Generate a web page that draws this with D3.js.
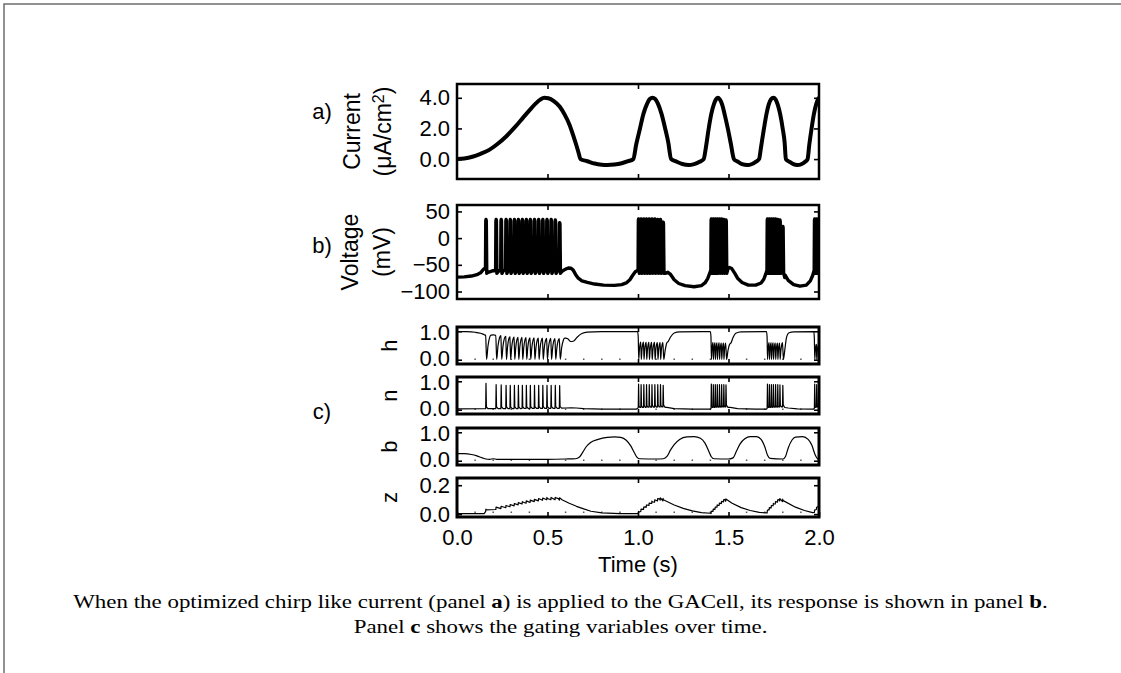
<!DOCTYPE html>
<html>
<head>
<meta charset="utf-8">
<title>GACell response to a chirp-like current</title>
<script src="https://cdn.jsdelivr.net/npm/d3@7"></script>
<style>
  html, body { margin: 0; padding: 0; background: #fff; }
  svg { display: block; }
</style>
</head>
<body>
<svg id="figure" width="1121" height="673"></svg>
<script>
// ---------- data ----------
const timeTicks = [0, 0.5, 1.0, 1.5, 2.0];
const innerTimeTicks = [0.5, 1.0, 1.5];
const minorTimeTicks = [0.1, 0.2, 0.3, 0.4, 0.6, 0.7, 0.8, 0.9, 1.1, 1.2, 1.3, 1.4, 1.6, 1.7, 1.8, 1.9];
const currentTicks = [0, 2, 4];
const voltageTicks = [50, 0, -50, -100];
const gateTicks = [0, 1];
const zTicks = [0, 0.2];

// injected current, µA/cm² : [time s, value]
const currentTrace = [
  [0, 0], [0.04, 0.04], [0.085, 0.15], [0.13, 0.34], [0.178, 0.6], [0.22, 0.95], [0.27, 1.46],
  [0.32, 2.08], [0.363, 2.67], [0.4, 3.18], [0.437, 3.65], [0.46, 3.88], [0.483, 4.0], [0.505, 3.97],
  [0.535, 3.78], [0.567, 3.43], [0.595, 2.9], [0.622, 2.23], [0.642, 1.55], [0.659, 0.92], [0.672, 0.4], [0.682, 0],
  [0.72, -0.14], [0.76, -0.29], [0.8, -0.37], [0.83, -0.39], [0.87, -0.36], [0.91, -0.27], [0.945, -0.14], [0.974, 0],
  [0.99, 0.95], [1.011, 2.0], [1.03, 2.95], [1.05, 3.6], [1.065, 3.92], [1.08, 4.0], [1.095, 3.92], [1.11, 3.62],
  [1.13, 2.95], [1.15, 2.0], [1.167, 1.1], [1.183, 0],
  [1.21, -0.15], [1.245, -0.32], [1.28, -0.39], [1.31, -0.33], [1.34, -0.18], [1.363, 0],
  [1.375, 0.75], [1.39, 1.95], [1.405, 2.95], [1.42, 3.6], [1.43, 3.88], [1.44, 4.0], [1.452, 3.9], [1.465, 3.55],
  [1.48, 2.85], [1.497, 1.95], [1.513, 1.0], [1.53, 0],
  [1.55, -0.16], [1.575, -0.33], [1.604, -0.39], [1.63, -0.32], [1.652, -0.17], [1.669, 0],
  [1.68, 0.8], [1.696, 2.0], [1.71, 2.95], [1.722, 3.55], [1.735, 3.9], [1.748, 4.0], [1.76, 3.9], [1.772, 3.55],
  [1.786, 2.9], [1.8, 1.95], [1.81, 1.1], [1.817, 0],
  [1.835, -0.16], [1.858, -0.33], [1.88, -0.39], [1.905, -0.32], [1.925, -0.16], [1.937, 0],
  [1.946, 0.9], [1.959, 2.0], [1.972, 2.95], [1.985, 3.6], [1.994, 3.9], [2.0, 4.0]
];

// membrane voltage between spikes, mV : [time s, value]
const voltageRest = [
  [0, -73], [0.04, -72.5], [0.08, -71], [0.11, -68.5], [0.13, -65], [0.145, -59], [0.158, -55],
  [0.18, -63], [0.2, -61], [0.23, -61], [0.26, -60], [0.3, -60], [0.4, -60], [0.5, -60], [0.566, -60],
  [0.585, -61], [0.6, -58], [0.615, -56], [0.63, -56.5], [0.642, -60], [0.655, -68], [0.67, -75], [0.69, -80],
  [0.72, -83], [0.76, -86], [0.81, -88], [0.87, -88.5], [0.91, -87], [0.935, -84], [0.955, -78], [0.97, -70],
  [0.985, -63], [1.0, -60],
  [1.05, -60], [1.138, -61], [1.15, -64], [1.165, -64], [1.18, -68], [1.2, -78], [1.225, -85], [1.26, -89],
  [1.31, -91], [1.35, -89], [1.37, -84], [1.385, -76], [1.396, -66], [1.404, -60],
  [1.485, -60], [1.495, -58], [1.505, -55], [1.518, -57], [1.535, -66], [1.55, -75], [1.575, -83], [1.61, -88],
  [1.65, -88], [1.68, -84], [1.695, -77], [1.706, -67], [1.714, -60],
  [1.783, -61], [1.799, -62], [1.812, -69], [1.83, -79], [1.86, -87], [1.895, -90], [1.93, -88], [1.952, -80],
  [1.965, -70], [1.975, -60], [2.0, -60]
];
const spikeTrough = -66;

// action potentials : [time s, peak voltage mV, peak n]
const spikes = [
  [0.159, 35, 0.93], [0.215, 35, 0.88], [0.243, 35, 0.87], [0.270, 35, 0.86], [0.293, 35, 0.86],
  [0.316, 35, 0.86], [0.338, 35, 0.86], [0.360, 35, 0.86], [0.382, 35, 0.86], [0.404, 35, 0.86],
  [0.427, 35, 0.86], [0.450, 35, 0.86], [0.473, 35, 0.86], [0.496, 35, 0.86], [0.519, 35, 0.86],
  [0.542, 34, 0.86], [0.566, 29, 0.85],
  [1.002, 36, 0.9], [1.016, 36, 0.88], [1.031, 36, 0.88], [1.046, 36, 0.88], [1.061, 36, 0.88],
  [1.076, 36, 0.88], [1.092, 36, 0.88], [1.108, 35, 0.88], [1.123, 35, 0.88], [1.138, 30, 0.86],
  [1.404, 36, 0.9], [1.415, 36, 0.88], [1.426, 36, 0.88], [1.437, 36, 0.88], [1.449, 36, 0.88],
  [1.461, 36, 0.88], [1.473, 35, 0.88], [1.485, 34, 0.87],
  [1.714, 36, 0.9], [1.725, 36, 0.88], [1.736, 36, 0.88], [1.747, 36, 0.88], [1.759, 36, 0.88],
  [1.771, 35, 0.88], [1.783, 34, 0.87], [1.799, 22, 0.86],
  [1.975, 36, 0.9], [1.986, 36, 0.88], [1.997, 36, 0.88]
];

// h gating: level reached between spikes, and depth of each spike's dip
const hLevel = [
  [0, 0.99], [0.05, 0.985], [0.1, 0.965], [0.13, 0.93], [0.15, 0.88], [0.159, 0.86],
  [0.17, 0.86], [0.2, 0.87], [0.25, 0.84], [0.3, 0.8], [0.4, 0.77], [0.5, 0.75], [0.566, 0.74],
  [0.6, 0.76], [0.612, 0.74], [0.628, 0.64], [0.645, 0.66], [0.665, 0.8], [0.69, 0.92], [0.72, 0.97],
  [0.8, 0.985], [0.998, 0.99],
  [1.006, 0.62], [1.138, 0.6], [1.15, 0.6], [1.158, 0.66], [1.166, 0.63], [1.18, 0.8], [1.2, 0.94],
  [1.23, 0.98], [1.4, 0.99],
  [1.408, 0.6], [1.485, 0.58], [1.495, 0.57], [1.503, 0.62], [1.512, 0.56], [1.525, 0.78], [1.54, 0.93],
  [1.57, 0.98], [1.71, 0.99],
  [1.718, 0.6], [1.783, 0.58], [1.799, 0.6], [1.81, 0.6], [1.82, 0.85], [1.835, 0.95], [1.86, 0.98],
  [1.971, 0.99], [1.979, 0.55], [2.0, 0.5]
];
const hDip = 0.01;

// n gating between spikes
const nRest = [
  [0, 0.03], [0.15, 0.035], [0.57, 0.05], [0.6, 0.06], [0.63, 0.07], [0.66, 0.06], [0.7, 0.04], [0.8, 0.02],
  [0.99, 0.02], [1.004, 0.08], [1.14, 0.1], [1.16, 0.08], [1.2, 0.04], [1.3, 0.02], [1.4, 0.02],
  [1.408, 0.08], [1.485, 0.1], [1.51, 0.08], [1.55, 0.04], [1.65, 0.02], [1.71, 0.02], [1.718, 0.08],
  [1.8, 0.1], [1.83, 0.06], [1.88, 0.03], [1.97, 0.02], [1.979, 0.08], [2.0, 0.1]
];

// b gating
const bTrace = [
  [0, 0.25], [0.04, 0.25], [0.08, 0.22], [0.11, 0.17], [0.14, 0.1], [0.16, 0.06], [0.18, 0.05], [0.2, 0.07],
  [0.22, 0.05], [0.26, 0.05], [0.35, 0.05], [0.5, 0.05], [0.6, 0.06], [0.655, 0.07], [0.675, 0.12],
  [0.695, 0.3], [0.715, 0.5], [0.74, 0.65], [0.78, 0.75], [0.83, 0.82], [0.87, 0.84], [0.905, 0.82],
  [0.935, 0.72], [0.96, 0.52], [0.98, 0.28], [0.995, 0.12], [1.01, 0.07], [1.1, 0.06], [1.14, 0.07],
  [1.16, 0.15], [1.18, 0.38], [1.2, 0.57], [1.23, 0.75], [1.27, 0.84], [1.31, 0.85], [1.345, 0.79],
  [1.37, 0.62], [1.39, 0.35], [1.405, 0.14], [1.42, 0.07], [1.5, 0.06], [1.525, 0.1], [1.545, 0.35],
  [1.565, 0.6], [1.59, 0.77], [1.62, 0.85], [1.655, 0.85], [1.68, 0.75], [1.7, 0.5], [1.715, 0.2],
  [1.73, 0.08], [1.8, 0.06], [1.815, 0.15], [1.83, 0.45], [1.85, 0.72], [1.87, 0.83], [1.91, 0.85],
  [1.94, 0.75], [1.96, 0.55], [1.978, 0.22], [1.99, 0.08], [2.0, 0.03]
];

// z gating trend, with a small step at every spike
const zTrend = [
  [0, 0.003], [0.15, 0.004], [0.16, 0.03], [0.215, 0.04], [0.27, 0.052], [0.36, 0.078], [0.45, 0.1],
  [0.5, 0.108], [0.56, 0.107], [0.58, 0.1], [0.62, 0.075], [0.66, 0.054], [0.7, 0.036], [0.74, 0.02],
  [0.8, 0.009], [0.9, 0.004], [0.995, 0.003], [1.004, 0.014], [1.04, 0.05], [1.08, 0.085], [1.12, 0.105],
  [1.14, 0.1], [1.2, 0.063], [1.25, 0.04], [1.3, 0.022], [1.35, 0.01], [1.4, 0.006], [1.41, 0.02],
  [1.44, 0.06], [1.48, 0.1], [1.52, 0.075], [1.57, 0.045], [1.62, 0.025], [1.67, 0.012], [1.71, 0.008],
  [1.72, 0.03], [1.75, 0.07], [1.78, 0.1], [1.8, 0.095], [1.87, 0.048], [1.92, 0.025], [1.965, 0.01],
  [1.975, 0.02], [2.0, 0.065]
];
const zStep = 0.016;

const captionLines = [
  [["When the optimized chirp like current (panel ", false], ["a", true],
   [") is applied to the GACell, its response is shown in panel ", false], ["b", true], [".", false]],
  [["Panel ", false], ["c", true], [" shows the gating variables over time.", false]]
];

// ---------- helpers ----------
const SANS = '"Liberation Sans", Arial, Helvetica, sans-serif';
const SERIF = '"Liberation Serif", "Times New Roman", serif';
const svg = d3.select("#figure");
const x = d3.scaleLinear().domain([0, 2]).range([457, 819]);
const byTime = d3.bisector(d => d[0]).left;

function valueAt(series, t) {
  const i = byTime(series, t);
  if (i <= 0) return series[0][1];
  if (i >= series.length) return series[series.length - 1][1];
  const [t0, v0] = series[i - 1], [t1, v1] = series[i];
  return v0 + (v1 - v0) * (t - t0) / (t1 - t0);
}

// Merge a slow trace with a short excursion placed at every spike time.
function withSpikes(rest, excursion) {
  const pts = [], windows = [];
  spikes.forEach((s, i) => {
    const next = i < spikes.length - 1 ? spikes[i + 1][0] : Infinity;
    const gap = Math.min(next - s[0], 0.03);
    const seg = excursion(s, gap);
    windows.push([seg[0][0], seg[seg.length - 1][0]]);
    pts.push(...seg);
  });
  rest.forEach(p => {
    if (!windows.some(w => p[0] >= w[0] && p[0] <= w[1])) pts.push(p);
  });
  return pts.filter(p => p[0] >= 0 && p[0] <= 2).sort((a, b) => a[0] - b[0]);
}

// each action potential: upstroke, short rounded top, fall to the after-hyperpolarisation
const voltagePath = withSpikes(voltageRest, ([t, peak], gap) => [
  [t - 0.0016, valueAt(voltageRest, t)],
  [t, peak - 3],
  [t + 0.0014, peak],
  [t + 0.0028, peak - 3],
  [t + 0.0055, spikeTrough],
  [t + Math.min(0.6 * gap, 0.012), valueAt(voltageRest, t + 0.6 * gap) - 2]
]);

const hPath = withSpikes(hLevel, ([t], gap) => [
  [t - 0.0008, valueAt(hLevel, t)],
  [t + 0.15 * gap, hDip],
  [t + 0.4 * gap, 0.55 * valueAt(hLevel, t + 0.4 * gap)],
  [t + 0.7 * gap, 0.9 * valueAt(hLevel, t + 0.7 * gap)],
  [t + gap - 0.0012, valueAt(hLevel, t + gap - 0.0012)]
]);

const nPath = withSpikes(nRest, ([t, , peak], gap) => [
  [t - 0.0006, valueAt(nRest, t)],
  [t + 0.0012, peak],
  [t + 0.0035, valueAt(nRest, t) + 0.06],
  [t + Math.min(0.6 * gap, 0.012), valueAt(nRest, t + 0.6 * gap)]
]);

const zPath = withSpikes(zTrend, ([t]) => [
  [t - 0.0004, valueAt(zTrend, t) - zStep / 2],
  [t + 0.0006, valueAt(zTrend, t) + zStep / 2]
]);

// ---------- page frame ----------
svg.append("path")
  .attr("d", "M4,673V4H1121")
  .attr("fill", "none").attr("stroke", "#6e6e6e").attr("stroke-width", 1.5);

// ---------- panels ----------
function styleAxis(sel) {
  sel.select(".domain").remove();
  sel.selectAll(".tick line").attr("stroke", "#000").attr("stroke-width", 1.6);
  sel.selectAll(".tick text")
    .attr("fill", "#000")
    .style("font-family", SANS).style("font-size", "22px");
}

function panel(cfg) {
  const y = d3.scaleLinear().domain(cfg.domain).range([cfg.bottom, cfg.top]);
  const g = svg.append("g").attr("class", "panel-" + cfg.name);
  const [x0, x1] = x.range();
  const clipId = "clip-" + cfg.name;
  svg.append("clipPath").attr("id", clipId)
    .append("rect").attr("x", x0).attr("y", cfg.top).attr("width", x1 - x0).attr("height", cfg.bottom - cfg.top);

  if (cfg.minor) {
    g.append("g").selectAll("rect").data(minorTimeTicks).join("rect")
      .attr("x", d => x(d) - 0.75).attr("y", cfg.bottom - 5.5)
      .attr("width", 1.5).attr("height", 1.5).attr("fill", "#555");
  }

  g.append("path")
    .datum(cfg.data)
    .attr("clip-path", `url(#${clipId})`)
    .attr("fill", "none").attr("stroke", "#000")
    .attr("stroke-width", cfg.lineWidth)
    .attr("stroke-linejoin", "round").attr("stroke-linecap", "round")
    .attr("d", d3.line().x(d => x(d[0])).y(d => y(d[1])).curve(cfg.curve || d3.curveLinear));

  const left = g.append("g").attr("transform", `translate(${x0},0)`)
    .call(d3.axisLeft(y).tickValues(cfg.ticks).tickFormat(cfg.format).tickSize(-5).tickPadding(7))
    .call(styleAxis);
  // stacked gating panels: keep neighbouring tick labels from touching
  if (cfg.nudge) {
    left.selectAll(".tick text").attr("transform", d => d === cfg.ticks[0] ? "translate(0,-1)" : "translate(0,1)");
  }
  g.append("g").attr("transform", `translate(${x1},0)`)
    .call(d3.axisRight(y).tickValues(cfg.ticks).tickFormat("").tickSize(-5))
    .call(styleAxis);
  g.append("g").attr("transform", `translate(0,${cfg.top})`)
    .call(d3.axisTop(x).tickValues(innerTimeTicks).tickFormat("").tickSize(-5))
    .call(styleAxis);
  g.append("g").attr("transform", `translate(0,${cfg.bottom})`)
    .call(d3.axisBottom(x)
      .tickValues(cfg.timeLabels ? timeTicks : innerTimeTicks)
      .tickFormat(cfg.timeLabels ? d3.format(".1f") : "")
      .tickSize(-5).tickPadding(12))
    .call(styleAxis);

  g.append("rect")
    .attr("x", x0).attr("y", cfg.top).attr("width", x1 - x0).attr("height", cfg.bottom - cfg.top)
    .attr("fill", "none").attr("stroke", "#000").attr("stroke-width", cfg.boxWidth);
  return y;
}

const one = d3.format(".1f");
panel({ name: "current", top: 84, bottom: 179, domain: [-1.3, 4.9], ticks: currentTicks, format: one,
        data: currentTrace, lineWidth: 4, curve: d3.curveMonotoneX, boxWidth: 2.5 });
panel({ name: "voltage", top: 205, bottom: 299, domain: [-114, 62], ticks: voltageTicks, format: d3.format("d"),
        data: voltagePath, lineWidth: 3.4, boxWidth: 2.5 });
panel({ name: "h", top: 327, bottom: 364, domain: [-0.15, 1.15], ticks: gateTicks, format: one,
        data: hPath, lineWidth: 1.2, curve: d3.curveMonotoneX, boxWidth: 3, minor: true, nudge: true });
panel({ name: "n", top: 377, bottom: 414, domain: [-0.15, 1.15], ticks: gateTicks, format: one,
        data: nPath, lineWidth: 1.2, boxWidth: 3, minor: true, nudge: true });
panel({ name: "b", top: 428, bottom: 465, domain: [-0.15, 1.15], ticks: gateTicks, format: one,
        data: bTrace, lineWidth: 1.2, curve: d3.curveMonotoneX, boxWidth: 3, minor: true, nudge: true });
panel({ name: "z", top: 478, bottom: 517, domain: [-0.02, 0.25], ticks: zTicks, format: one,
        data: zPath, lineWidth: 1.2, boxWidth: 3, minor: true, timeLabels: true });

// ---------- labels ----------
function vLabel(xBase, yc, size, build) {
  const t = svg.append("text")
    .attr("transform", `translate(${xBase},${yc}) rotate(-90)`)
    .attr("text-anchor", "middle")
    .style("font-family", SANS).style("font-size", size + "px").attr("fill", "#000");
  build(t);
  return t;
}
vLabel(360, 131.5, 23, t => t.text("Current"));
vLabel(391, 131.5, 23, t => {
  t.append("tspan").text("(μA/cm");
  t.append("tspan").attr("dy", "-0.45em").style("font-size", "16px").text("2");
  t.append("tspan").attr("dy", "0.3em").text(")");
});
vLabel(358, 252, 23, t => t.text("Voltage"));
vLabel(390, 252, 23, t => t.text("(mV)"));
[["h", 345.5], ["n", 395.5], ["b", 446.5], ["z", 497.5]].forEach(([s, yc]) => vLabel(397, yc, 22, t => t.text(s)));

[["a)", 119], ["b)", 253], ["c)", 419]].forEach(([s, yb]) => {
  svg.append("text").attr("x", 322).attr("y", yb).attr("text-anchor", "middle")
    .style("font-family", SANS).style("font-size", "22px").attr("fill", "#000").text(s);
});

svg.append("text").attr("x", x(1)).attr("y", 572).attr("text-anchor", "middle")
  .style("font-family", SANS).style("font-size", "22px").attr("fill", "#000").text("Time (s)");

// ---------- caption ----------
const captionTexts = captionLines.map(parts => {
  const t = svg.append("text")
    .attr("text-anchor", "middle")
    .style("font-family", SERIF).style("font-size", "19px").attr("fill", "#000");
  parts.forEach(([s, bold]) => t.append("tspan").style("font-weight", bold ? "bold" : "normal").text(s));
  return t;
});
const stretch = 975 / captionTexts[0].node().getComputedTextLength();
captionTexts.forEach((t, i) => t.attr("transform", `translate(560.5,${608 + 25 * i}) scale(${stretch},1)`));
</script>
</body>
</html>
